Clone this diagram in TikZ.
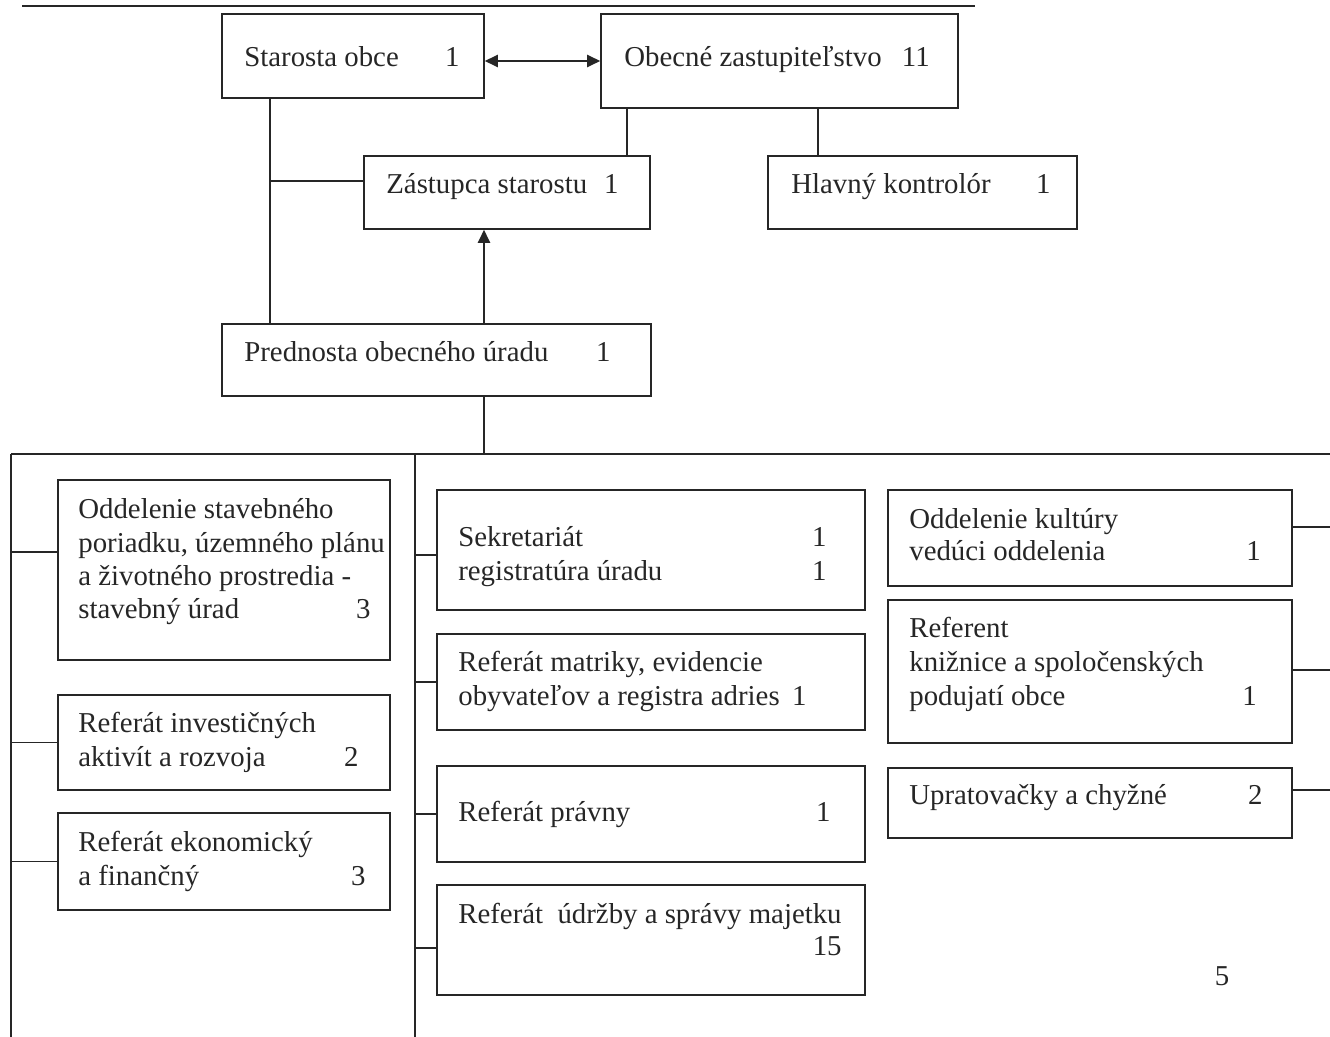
\documentclass[tikz,border=0pt]{standalone}
\usepackage{fontspec}
\setmainfont{Liberation Serif}
\usetikzlibrary{fit,arrows.meta}
\begin{document}
\begin{tikzpicture}[x=0.02cm,y=-0.02cm,
  box/.style={draw=black!85, line width=0.9pt, inner sep=0pt, rectangle},
  ln/.style={draw=black!85, line width=0.9pt},
  txt/.style={anchor=base west, inner sep=0pt, font=\fontsize{16.4}{18.7}\selectfont, text=black!85},
  num/.style={anchor=base east, inner sep=0pt, font=\fontsize{16.4}{18.7}\selectfont, text=black!85},
  tip/.style={-{Triangle[length=7.5pt,width=7pt]}},
  dtip/.style={{Triangle[length=7.5pt,width=7pt]}-{Triangle[length=7.5pt,width=7pt]}}
]
\useasboundingbox (0,0) rectangle (1330,1037);

% title underline (text cut off)
\coordinate (ulA) at (22,6);
\coordinate (ulB) at (975,6);
\draw[ln] (ulA) -- (ulB);

% ---------- top boxes ----------
\node[box, fit={(222,14) (484,98)}] (starosta) {};
\node[box, fit={(601,14) (958,108)}] (obecne) {};
\node[box, fit={(364,156) (650,229)}] (zastupca) {};
\node[box, fit={(768,156) (1077,229)}] (hlavny) {};
\node[box, fit={(222,324) (651,396)}] (prednosta) {};

\node[txt] (tStar) at (244,67) {Starosta obce};
\node[num] (nStar) at (460,67) {1};
\node[txt] (tObec) at (624,67) {Obecné zastupiteľstvo};
\node[num] (nObec) at (930,67) {11};
\node[txt] (tZast) at (386,194) {Zástupca starostu};
\node[num] (nZast) at (619,194) {1};
\node[txt] (tHlav) at (791,194) {Hlavný kontrolór};
\node[num] (nHlav) at (1051,194) {1};
\node[txt] (tPred) at (244,362) {Prednosta obecného úradu};
\node[num] (nPred) at (611,362) {1};

% ---------- top connectors ----------
\draw[ln, dtip] (starosta.east |- obecne.west) -- (obecne.west);
\coordinate (vS) at (270,0);
\draw[ln] (starosta.south -| vS) -- (prednosta.north -| vS);
\coordinate (hZ) at (0,181);
\draw[ln] (vS |- hZ) -- (zastupca.west |- hZ);
\coordinate (vO1) at (627,0);
\draw[ln] (obecne.south -| vO1) -- (zastupca.north -| vO1);
\coordinate (vO2) at (818,0);
\draw[ln] (obecne.south -| vO2) -- (hlavny.north -| vO2);
\coordinate (vP) at (484,0);
\draw[ln, tip] (prednosta.north -| vP) -- (zastupca.south -| vP);

% ---------- bus ----------
\coordinate (busL) at (11,454);
\coordinate (busR) at (1330,454);
\coordinate (busD) at (415,454);
\coordinate (botL) at (11,1037);
\coordinate (botD) at (415,1037);
\draw[ln] (prednosta.south -| vP) -- (vP |- busL);
\draw[ln] (busL) -- (busR);
\draw[ln] (busL) -- (botL);
\draw[ln] (busD) -- (botD);

% ---------- left column ----------
\node[box, fit={(58,480) (390,660)}] (odd) {};
\node[box, fit={(58,695) (390,790)}] (inv) {};
\node[box, fit={(58,813) (390,910)}] (eko) {};

\node[txt] (tOdd1) at (78,519) {Oddelenie stavebného};
\node[txt] (tOdd2) at (78,552) {poriadku, územného plánu};
\node[txt] (tOdd3) at (78,585) {a životného prostredia -};
\node[txt] (tOdd4) at (78,618) {stavebný úrad};
\node[num] (nOdd) at (371,618) {3};
\node[txt] (tInv1) at (78,732) {Referát investičných};
\node[txt] (tInv2) at (78,766) {aktivít a rozvoja};
\node[num] (nInv) at (359,766) {2};
\node[txt] (tEko1) at (78,851) {Referát ekonomický};
\node[txt] (tEko2) at (78,885) {a finančný};
\node[num] (nEko) at (366,885) {3};

\draw[ln] (busL |- 0,552) -- (odd.west |- 0,552);
\draw[ln] (busL |- inv.west) -- (inv.west);
\draw[ln] (busL |- eko.west) -- (eko.west);

% ---------- middle column ----------
\node[box, fit={(437,490) (865,610)}] (sek) {};
\node[box, fit={(437,634) (865,730)}] (mat) {};
\node[box, fit={(437,766) (865,862)}] (pra) {};
\node[box, fit={(437,885) (865,995)}] (udr) {};

\node[txt] (tSek1) at (458,546) {Sekretariát};
\node[num] (nSek1) at (827,546) {1};
\node[txt] (tSek2) at (458,581) {registratúra úradu};
\node[num] (nSek2) at (827,581) {1};
\node[txt] (tMat1) at (458,671) {Referát matriky, evidencie};
\node[txt] (tMat2) at (458,705) {obyvateľov a registra adries};
\node[num] (nMat) at (807,705) {1};
\node[txt] (tPra) at (458,821) {Referát právny};
\node[num] (nPra) at (831,821) {1};
\node[txt] (tUdr) at (458,923) {Referát\ \ údržby a správy majetku};
\node[num] (nUdr) at (842,955) {15};

\draw[ln] (busD |- 0,555) -- (sek.west |- 0,555);
\draw[ln] (busD |- mat.west) -- (mat.west);
\draw[ln] (busD |- pra.west) -- (pra.west);
\draw[ln] (busD |- 0,948) -- (udr.west |- 0,948);

% ---------- right column ----------
\node[box, fit={(888,490) (1292,586)}] (kul) {};
\node[box, fit={(888,600) (1292,743)}] (ref) {};
\node[box, fit={(888,768) (1292,838)}] (upr) {};

\node[txt] (tKul1) at (909,528) {Oddelenie kultúry};
\node[txt] (tKul2) at (909,561) {vedúci oddelenia};
\node[num] (nKul) at (1261,561) {1};
\node[txt] (tRef1) at (909,637) {Referent};
\node[txt] (tRef2) at (909,671) {knižnice a spoločenských};
\node[txt] (tRef3) at (909,705) {podujatí obce};
\node[num] (nRef) at (1257,705) {1};
\node[txt] (tUpr) at (909,804) {Upratovačky a chyžné};
\node[num] (nUpr) at (1263,804) {2};

\coordinate (rEdge) at (1330,0);
\draw[ln] (kul.east |- 0,527) -- (rEdge |- 0,527);
\draw[ln] (ref.east |- 0,670) -- (rEdge |- 0,670);
\draw[ln] (upr.east |- 0,790) -- (rEdge |- 0,790);

\node[txt, anchor=base] (page) at (1222,985) {5};
\end{tikzpicture}
\end{document}
